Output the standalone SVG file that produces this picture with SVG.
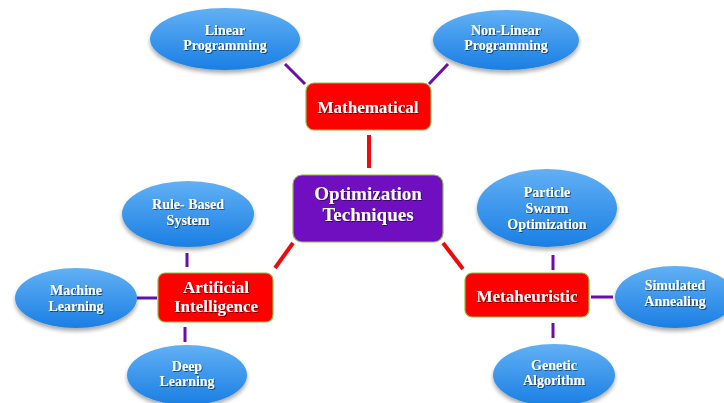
<svg xmlns="http://www.w3.org/2000/svg" width="724" height="403" viewBox="0 0 724 403">
  <defs>
    <linearGradient id="blueFill" x1="0" y1="0" x2="0" y2="1">
      <stop offset="0" stop-color="#62b0f4"/>
      <stop offset="0.5" stop-color="#3d97ec"/>
      <stop offset="1" stop-color="#1b7fe3"/>
    </linearGradient>
    <filter id="shadow" x="-20%" y="-20%" width="140%" height="150%">
      <feGaussianBlur in="SourceAlpha" stdDeviation="2"/>
      <feOffset dx="0" dy="3" result="b"/>
      <feComponentTransfer><feFuncA type="linear" slope="0.35"/></feComponentTransfer>
      <feMerge><feMergeNode/><feMergeNode in="SourceGraphic"/></feMerge>
    </filter>
    <filter id="txtShadow" x="-10%" y="-30%" width="120%" height="160%">
      <feGaussianBlur in="SourceAlpha" stdDeviation="0.6"/>
      <feOffset dx="0.8" dy="0.8"/>
      <feComponentTransfer><feFuncA type="linear" slope="0.5"/></feComponentTransfer>
      <feMerge><feMergeNode/><feMergeNode in="SourceGraphic"/></feMerge>
    </filter>
  </defs>
  <style>
    .oval { fill: url(#blueFill); filter: url(#shadow); }
    .box { fill: #ff0000; stroke: #8cbf3f; stroke-width: 1.2; }
    .hub { fill: #6f0fbf; stroke: #8cbf3f; stroke-width: 1.2; }
    .t { font-family: "Liberation Serif", "Times New Roman", serif; font-weight: bold; fill: #ffffff; text-anchor: middle; filter: url(#txtShadow); }
    .s14 { font-size: 14px; }
    .s17 { font-size: 17px; }
    .s19 { font-size: 19px; }
    .leaf { stroke: #6a0dad; stroke-width: 3; fill: none; }
    .spoke { stroke: #ee0a0a; stroke-width: 4; fill: none; }
  </style>
  <rect width="724" height="403" fill="#ffffff"/>

  <!-- connectors -->
  <g id="connectors">
    <line class="spoke" x1="369" y1="135" x2="369" y2="168"/>
    <line class="spoke" x1="293" y1="243" x2="275" y2="268"/>
    <line class="spoke" x1="443" y1="243" x2="463" y2="269"/>
    <line class="leaf" x1="285" y1="64" x2="305" y2="84"/>
    <line class="leaf" x1="429" y1="84" x2="448" y2="64"/>
    <line class="leaf" x1="187" y1="253" x2="187" y2="267"/>
    <line class="leaf" x1="137" y1="298" x2="157" y2="298"/>
    <line class="leaf" x1="185" y1="327" x2="185" y2="342"/>
    <line class="leaf" x1="553" y1="255" x2="553" y2="270"/>
    <line class="leaf" x1="591" y1="297" x2="613" y2="297"/>
    <line class="leaf" x1="553" y1="323" x2="553" y2="338"/>
  </g>

  <!-- hub -->
  <g id="optimization">
    <rect class="hub" x="293" y="175" width="150" height="67" rx="9"/>
    <text class="t s19" x="368" y="200">Optimization</text>
    <text class="t s19" x="368" y="221">Techniques</text>
  </g>

  <!-- categories -->
  <g id="mathematical">
    <rect class="box" x="306" y="83" width="125" height="47" rx="8"/>
    <text class="t s17" x="368" y="113">Mathematical</text>
  </g>
  <g id="ai">
    <rect class="box" x="158" y="273" width="115" height="49" rx="7"/>
    <text class="t s17" x="216" y="293">Artificial</text>
    <text class="t s17" x="216" y="312">Intelligence</text>
  </g>
  <g id="metaheuristic">
    <rect class="box" x="465" y="273" width="124" height="44" rx="7"/>
    <text class="t s17" x="527" y="302">Metaheuristic</text>
  </g>

  <!-- leaf techniques -->
  <g id="linear">
    <ellipse class="oval" cx="225" cy="39" rx="75" ry="31"/>
    <text class="t s14" x="225" y="34.5">Linear</text>
    <text class="t s14" x="225" y="50">Programming</text>
  </g>
  <g id="nonlinear">
    <ellipse class="oval" cx="506" cy="40" rx="73" ry="30"/>
    <text class="t s14" x="506" y="34.5">Non-Linear</text>
    <text class="t s14" x="506" y="50">Programming</text>
  </g>
  <g id="rulebased">
    <ellipse class="oval" cx="188" cy="214" rx="66" ry="33"/>
    <text class="t s14" x="188" y="208.5">Rule- Based</text>
    <text class="t s14" x="188" y="225">System</text>
  </g>
  <g id="machine">
    <ellipse class="oval" cx="76" cy="298" rx="61" ry="30"/>
    <text class="t s14" x="76" y="295">Machine</text>
    <text class="t s14" x="76" y="311">Learning</text>
  </g>
  <g id="deep">
    <ellipse class="oval" cx="187" cy="375" rx="60" ry="30"/>
    <text class="t s14" x="187" y="370.5">Deep</text>
    <text class="t s14" x="187" y="386">Learning</text>
  </g>
  <g id="pso">
    <ellipse class="oval" cx="547" cy="208" rx="70" ry="39"/>
    <text class="t s14" x="547" y="197">Particle</text>
    <text class="t s14" x="547" y="213">Swarm</text>
    <text class="t s14" x="547" y="228.5">Optimization</text>
  </g>
  <g id="annealing">
    <ellipse class="oval" cx="675" cy="297" rx="60" ry="31"/>
    <text class="t s14" x="675" y="290">Simulated</text>
    <text class="t s14" x="675" y="306">Annealing</text>
  </g>
  <g id="genetic">
    <ellipse class="oval" cx="554" cy="375" rx="61" ry="31"/>
    <text class="t s14" x="554" y="369.5">Genetic</text>
    <text class="t s14" x="554" y="385">Algorithm</text>
  </g>
</svg>
